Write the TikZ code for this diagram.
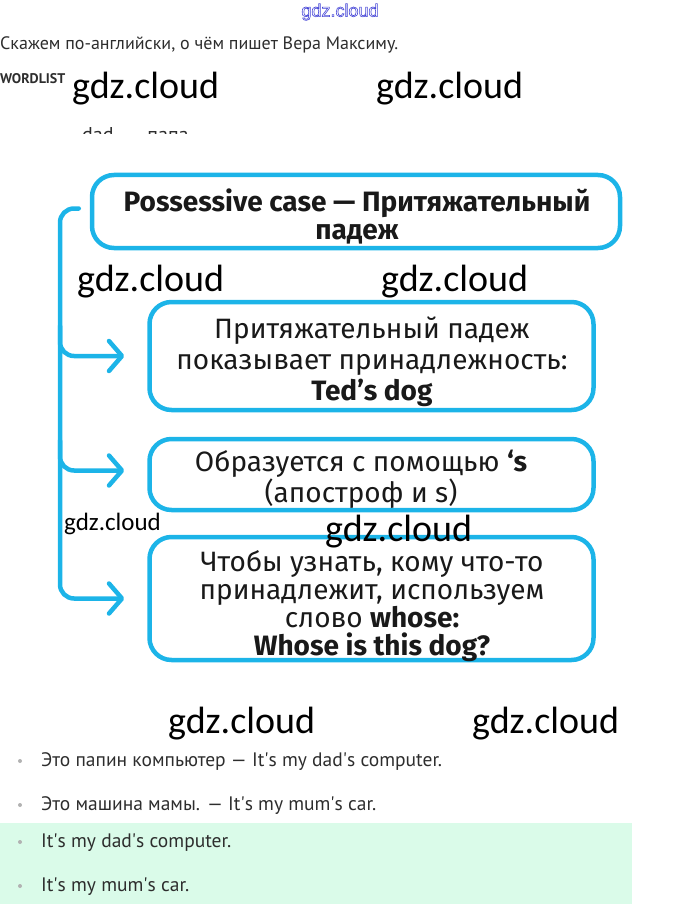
\documentclass[tikz,border=0pt]{standalone}
\usepackage{fontspec}
\setmainfont{PT Sans}
\newfontfamily\boxfont{Fira Sans}
\newfontfamily\markfont{Carlito}
\newfontfamily\topfont{Liberation Sans}
\usetikzlibrary{arrows.meta,positioning}
\definecolor{boxblue}{RGB}{28,180,232}
\definecolor{bandgreen}{RGB}{218,251,233}
\definecolor{bodygray}{RGB}{45,45,45}
\definecolor{markblue}{RGB}{70,70,215}
\tikzset{
  panel/.style={draw=boxblue, line width=4.5pt, rounded corners=22pt, inner sep=0pt},
  paneltext/.style={align=center, inner sep=0pt, text=black!90,
    font=\boxfont\fontsize{28}{28}\selectfont},
  link/.style={draw=boxblue, line width=4.5pt, rounded corners=14pt, line cap=round,
    -{Straight Barb[length=13pt,width=30pt,round]}},
  wmark/.style={font=\markfont\fontsize{38}{38}\selectfont, anchor=base west, inner sep=0pt},
  smallmark/.style={wmark, font=\markfont\fontsize{25}{25}\selectfont},
  bodytext/.style={font=\fontsize{19.5}{21}\selectfont, text=bodygray, anchor=base west, inner sep=0pt},
  bullet/.style={circle, fill=gray!60, inner sep=0pt, minimum size=4pt}
}
\begin{document}
\begin{tikzpicture}[x=1pt, y=-1pt]
            \useasboundingbox (0,0) rectangle (680,904);
            % page text above the diagram
            \node[font=\topfont\fontsize{18}{18}\selectfont, text=markblue] (site) at (340,12)
                {\special{pdf:code q 1 Tr 0.6 w 0.27 0.27 0.84 RG}gdz.cloud\special{pdf:code Q}};
            \node[bodytext, font=\fontsize{18}{20}\selectfont] (intro) at (0,50) {Скажем по-английски, о чём пишет Вера Максиму.};
            \node[bodytext, font=\bfseries\fontsize{14}{14}\selectfont] (wordlist) at (0,84) {WORDLIST};
            \begin{scope}
                \clip (0,0) rectangle (680,134);
                \node[bodytext, font=\fontsize{20}{22}\selectfont] (word) at (82,141.5) {dad \,—\, папа};
            \end{scope}
            % boxes
            \node[panel, minimum width=528pt, minimum height=73pt] (case) at (356,211.5) {};
            \node[panel, minimum width=444pt, minimum height=108pt] (shows) at (371.5,356) {};
            \node[panel, minimum width=444pt, minimum height=71pt] (forms) at (371.5,474.5) {};
            \node[panel, minimum width=444pt, minimum height=123pt] (whose) at (371.5,598.5) {};
            % box texts
            \node[paneltext, font=\boxfont\bfseries\fontsize{28}{28}\selectfont] (case-text) at (357,216)
                {Possessive case — Притяжательный\\падеж};
            \node[paneltext, font=\boxfont\fontsize{28}{31}\selectfont] (shows-text) at (372,362)
                {Притяжательный падеж\\показывает принадлежность:\\\textbf{Ted’s dog}};
            \node[paneltext, font=\boxfont\fontsize{28}{27}\selectfont] (forms-text) at (361,479)
                {Образуется с помощью \textbf{‘s}\\(апостроф и s)};
            \node[paneltext] (whose-text) at (372,606)
                {Чтобы узнать, кому что-то\\принадлежит, используем\\слово \textbf{whose:}\\\textbf{Whose is this dog?}};
            % bracket and arrows
            \coordinate (trunk) at (60,0);
            \coordinate (start) at ([xshift=-11pt,yshift=3pt]case.west);
            \coordinate (to-shows) at ([xshift=-23pt]shows.west);
            \coordinate (to-forms) at ([xshift=-23pt,yshift=4pt]forms.west);
            \coordinate (to-whose) at ([xshift=-23pt]whose.west);
            \draw[link] (start) -- (start -| trunk) |- (to-whose);
            \draw[link] ([yshift=30pt]to-shows -| trunk) |- (to-shows);
            \draw[link] ([yshift=30pt]to-forms -| trunk) |- (to-forms);
            % watermarks
            \node[wmark] (mark1) at (72,99) {gdz.cloud};
            \node[wmark] (mark2) at (376,99) {gdz.cloud};
            \node[wmark] (mark3) at (77,291) {gdz.cloud};
            \node[wmark] (mark4) at (381,291) {gdz.cloud};
            \node[smallmark] (mark5) at (64,530) {gdz.cloud};
            \node[wmark] (mark6) at (325,541) {gdz.cloud};
            \node[wmark] (mark7) at (168,733) {gdz.cloud};
            \node[wmark] (mark8) at (472,733) {gdz.cloud};
            % examples
            \fill[bandgreen] (0,823) rectangle (632,904);
            \node[bullet] (dot1) at (20,761) {};
            \node[bullet] (dot2) at (20,805) {};
            \node[bullet] (dot3) at (20,842) {};
            \node[bullet] (dot4) at (20,886) {};
            \node[bodytext] (ex1) at (41,766) {Это папин компьютер — It\textquotesingle s my dad\textquotesingle s computer.};
            \node[bodytext] (ex2) at (41,810) {Это машина мамы. — It\textquotesingle s my mum\textquotesingle s car.};
            \node[bodytext] (ex3) at (41,847) {It\textquotesingle s my dad\textquotesingle s computer.};
            \node[bodytext] (ex4) at (41,891) {It\textquotesingle s my mum\textquotesingle s car.};
\end{tikzpicture}
\end{document}
